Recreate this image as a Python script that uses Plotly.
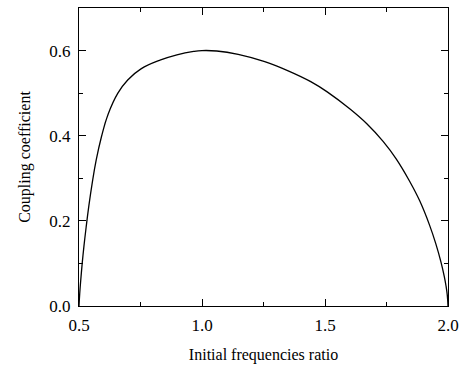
import plotly.graph_objects as go

# Values
ratio = [0.500, 0.503, 0.507, 0.513, 0.520, 0.529, 0.540, 0.554, 0.570, 0.591,
         0.618, 0.658, 0.698, 0.752, 0.832, 0.898, 0.966, 1.000, 1.060, 1.147,
         1.255, 1.348, 1.442, 1.509, 1.603, 1.670, 1.737, 1.790, 1.844, 1.885,
         1.925, 1.950, 1.972, 1.985, 1.992, 1.997, 2.000]
coupling = [0.000, 0.030, 0.060, 0.100, 0.140, 0.185, 0.235, 0.290, 0.343, 0.397,
            0.450, 0.500, 0.531, 0.557, 0.578, 0.590, 0.598, 0.600, 0.599, 0.591,
            0.574, 0.553, 0.527, 0.503, 0.462, 0.428, 0.386, 0.345, 0.293, 0.247,
            0.190, 0.147, 0.102, 0.069, 0.047, 0.026, 0.000]

x_ticks = [0.5, 1.0, 1.5, 2.0]
x_ticklabels = ["0.5", "1.0", "1.5", "2.0"]
y_ticks = [0.0, 0.2, 0.4, 0.6]
y_ticklabels = ["0.0", "0.2", "0.4", "0.6"]

fig = go.Figure()
fig.add_trace(go.Scatter(x=ratio, y=coupling, mode="lines",
                         line=dict(color="black", width=1.3, shape="spline", smoothing=1.2),
                         showlegend=False, hoverinfo="skip"))

font_family = "Liberation Serif"
axis_common = dict(showline=True, linecolor="black", linewidth=1, mirror="allticks",
                   ticks="inside", ticklen=7, tickwidth=1, tickcolor="black",
                   showgrid=False, zeroline=False,
                   tickfont=dict(family=font_family, size=17, color="black"))

fig.update_xaxes(range=[0.5, 2.0], tickvals=x_ticks, ticktext=x_ticklabels,
                 minor=dict(dtick=0.25, ticklen=4, tickwidth=1, tickcolor="black", ticks="inside"),
                 title=dict(text="Initial frequencies ratio", standoff=14,
                            font=dict(family=font_family, size=16, color="black")),
                 ticklabelstandoff=4,
                 **axis_common)
fig.update_yaxes(range=[0.0, 0.7], tickvals=y_ticks, ticktext=y_ticklabels,
                 minor=dict(dtick=0.1, ticklen=4, tickwidth=1, tickcolor="black", ticks="inside"),
                 title=dict(text="Coupling coefficient", standoff=14,
                            font=dict(family=font_family, size=16, color="black")),
                 ticklabelstandoff=4,
                 **axis_common)

fig.update_layout(width=466, height=368, margin=dict(l=79, r=14, t=7, b=59),
                  paper_bgcolor="white", plot_bgcolor="white",
                  font=dict(family=font_family, color="black"))

fig.write_html("out.html")
